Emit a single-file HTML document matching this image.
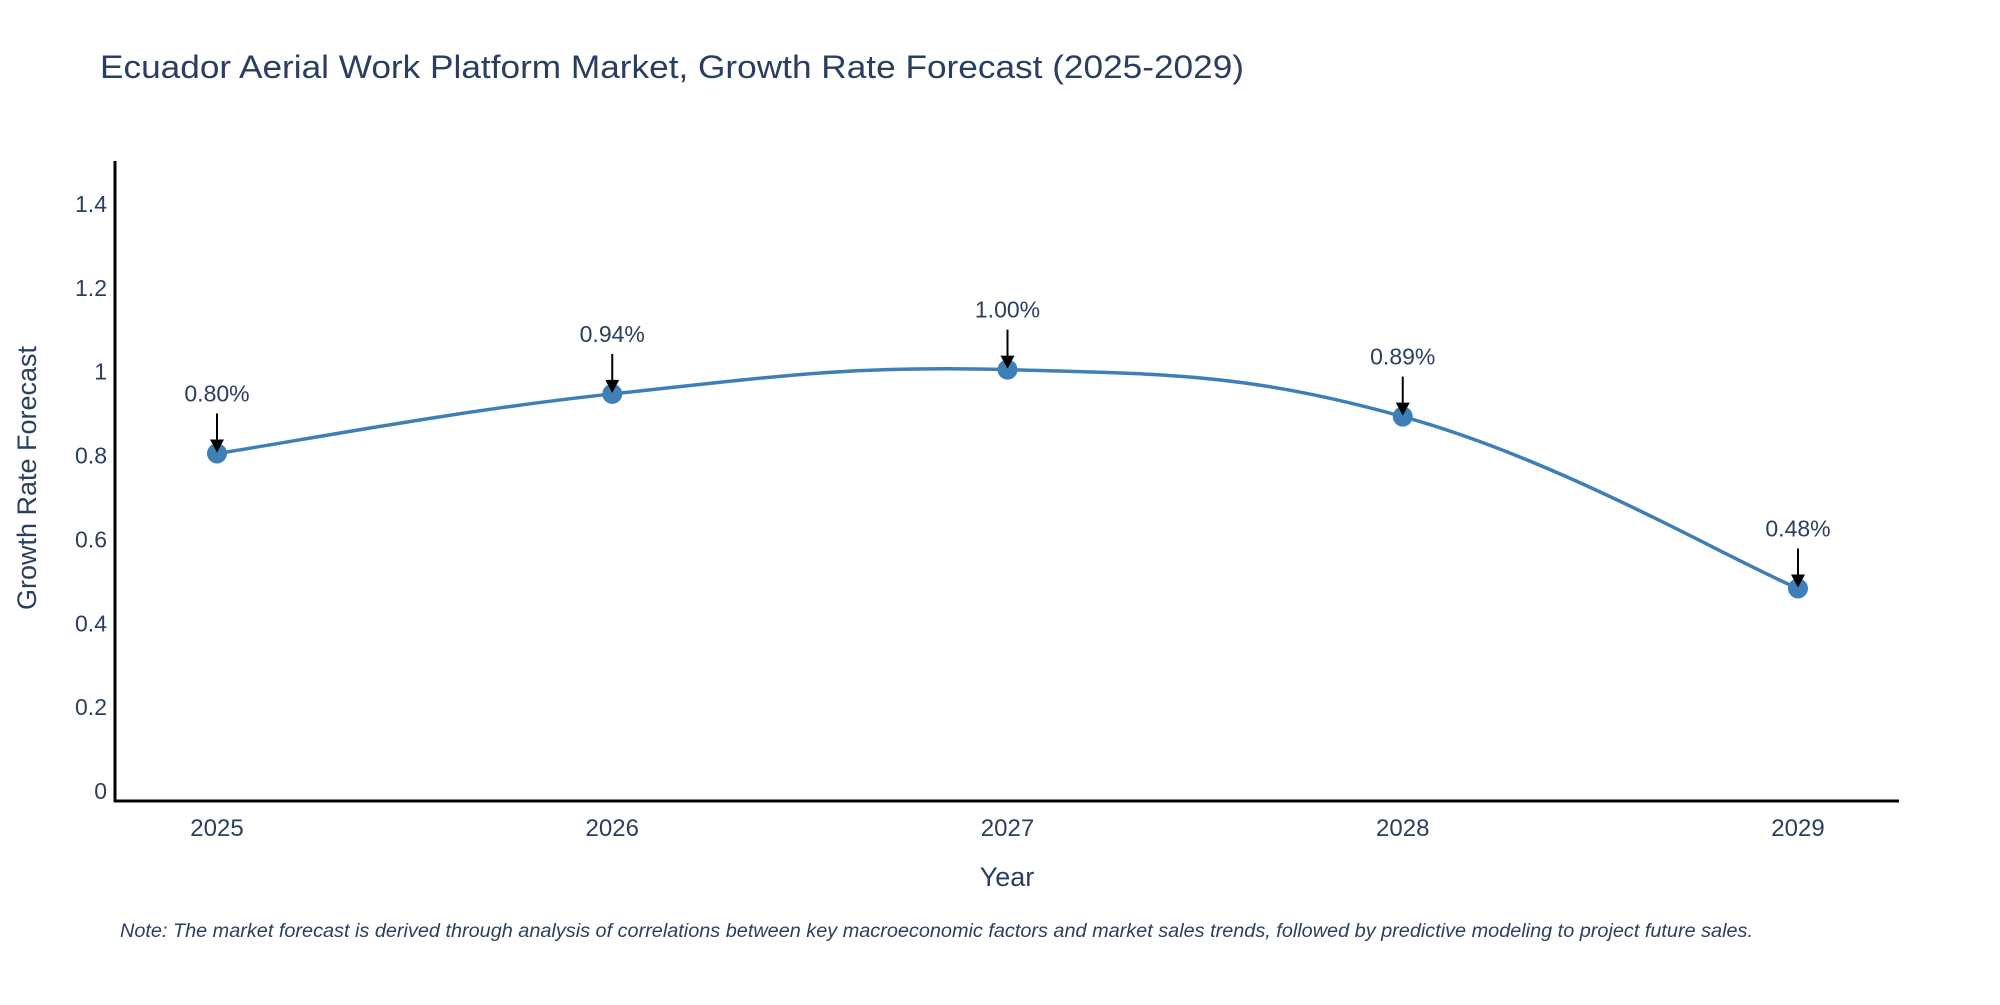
<!DOCTYPE html>
<html><head><meta charset="utf-8"><style>
body{margin:0;background:#fff;}
svg text{font-family:"Liberation Sans",sans-serif;fill:#2a3f5f;}
</style></head><body>
<svg id="chart" width="2000" height="1000" viewBox="0 0 2000 1000">
<text x="100" y="78" font-size="32" textLength="1144" lengthAdjust="spacingAndGlyphs">Ecuador Aerial Work Platform Market, Growth Rate Forecast (2025-2029)</text>
<g id="yticks"></g><g id="xticks"></g>
<line x1="115" y1="161" x2="115" y2="802" stroke="#000" stroke-width="3"/>
<line x1="114" y1="801" x2="1899" y2="801" stroke="#000" stroke-width="3"/>
<path id="curve" fill="none" stroke="#3d7fb6" stroke-width="3.5"/>
<g id="marks"></g>
<text x="1007" y="886" font-size="27" text-anchor="middle">Year</text>
<text transform="translate(36,478) rotate(-90)" font-size="27" text-anchor="middle">Growth Rate Forecast</text>
<text x="120" y="937" font-size="19" font-style="italic" textLength="1633" lengthAdjust="spacingAndGlyphs">Note: The market forecast is derived through analysis of correlations between key macroeconomic factors and market sales trends, followed by predictive modeling to project future sales.</text>
</svg>
<script>
const years=["2025","2026","2027","2028","2029"];
const values=[0.805,0.947,1.005,0.893,0.483];
const labels=["0.80%","0.94%","1.00%","0.89%","0.48%"];
const yTicks=[0,0.2,0.4,0.6,0.8,1,1.2,1.4];
const NS="http://www.w3.org/2000/svg";
const xs=i=>217+i*395.25;
const ys=v=>791-v*(791-204)/1.4;
function mk(t,a,p){const e=document.createElementNS(NS,t);for(const k in a)e.setAttribute(k,a[k]);p.appendChild(e);return e;}
const yt=document.getElementById('yticks');
yTicks.forEach(v=>{const t=mk('text',{x:107,y:ys(v)+8,'font-size':23,'text-anchor':'end'},yt);


t.textContent=String(v);});
const xt=document.getElementById('xticks');
years.forEach((y,i)=>{const t=mk('text',{x:xs(i),y:836,'font-size':24,'text-anchor':'middle'},xt);


t.textContent=y;});
const P=values.map((v,i)=>[xs(i),ys(v)]);
let d=`M${P[0][0]},${P[0][1]}`;const s=0.2;
for(let i=0;i<P.length-1;i++){const p0=P[Math.max(0,i-1)],p1=P[i],p2=P[i+1],p3=P[Math.min(P.length-1,i+2)];
d+=` C${p1[0]+(p2[0]-p0[0])*s},${p1[1]+(p2[1]-p0[1])*s} ${p2[0]-(p3[0]-p1[0])*s},${p2[1]-(p3[1]-p1[1])*s} ${p2[0]},${p2[1]}`;}
document.getElementById('curve').setAttribute('d',d);
const g=document.getElementById('marks');
P.forEach((p,i)=>{
const c=mk('circle',{cx:p[0],cy:p[1],r:10,fill:'#3d7fb6'},g);


const l=mk('line',{x1:p[0],y1:p[1]-40,x2:p[0],y2:p[1]-12,stroke:'#000','stroke-width':2},g);


const h=mk('path',{d:`M${p[0]-7},${p[1]-14} L${p[0]+7},${p[1]-14} L${p[0]},${p[1]-1} Z`,fill:'#000'},g);


const t=mk('text',{x:p[0],y:p[1]-52,'font-size':23,'text-anchor':'middle'},g);


t.textContent=labels[i];});
</script>
</body></html>
